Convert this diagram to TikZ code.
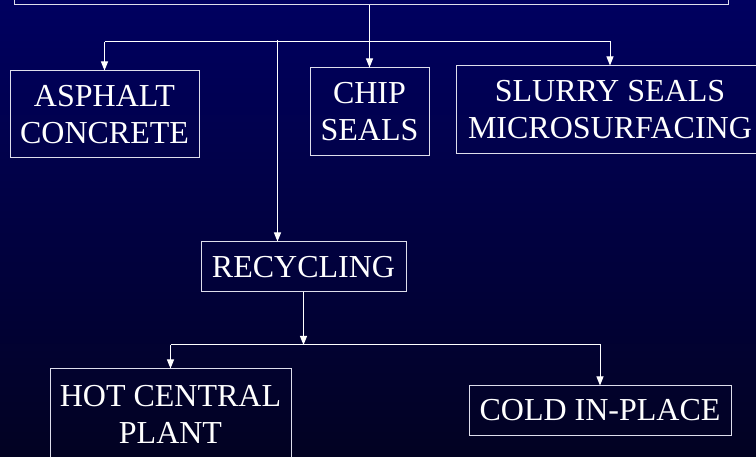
\documentclass[tikz,border=0pt]{standalone}
\usepackage{fontspec}
\setmainfont{Liberation Serif}
\usetikzlibrary{arrows.meta, positioning}
\definecolor{navytop}{RGB}{0,0,96}
\definecolor{navymid}{RGB}{0,0,74}
\definecolor{navybot}{RGB}{2,2,34}
\definecolor{boxline}{RGB}{222,222,236}
\tikzset{
  box/.style={
    draw=boxline,
    rectangle,
    line width=1pt,
    inner sep=0pt,
    align=center,
    text=white,
    font=\fontsize{32}{37}\selectfont,
  },
  arrow/.style={
    -{Triangle[length=9pt,width=7pt]},
    white,
    line width=1pt
  }
}
\begin{document}
\begin{tikzpicture}[x=1pt,y=-1pt]
  \shade[top color=navytop, middle color=navymid, bottom color=navybot]
    (0,0) rectangle (756,457);
  \useasboundingbox (0,0) rectangle (756,457);
  \clip (0,0) rectangle (756,457);

  \node[box, minimum width=714pt, minimum height=90pt] (top) at (371,-40) {};
  \node[box, minimum width=189pt, minimum height=87pt] (asphalt) at (104.5,114.5) {ASPHALT\\CONCRETE};
  \node[box, minimum width=119pt, minimum height=88pt] (chip) at (369.5,112) {CHIP\\SEALS};
  \node[box, minimum width=308pt, minimum height=88pt] (slurry) at (610,110) {SLURRY SEALS\\MICROSURFACING};
  \node[box, minimum width=205pt, minimum height=50pt] (recycling) at (303.5,267) {RECYCLING};
  \node[box, minimum width=241pt, minimum height=91pt] (hot) at (170.5,414.5) {HOT CENTRAL\\PLANT};
  \node[box, minimum width=262pt, minimum height=49pt] (cold) at (600,410.5) {COLD IN-PLACE};

  \coordinate (bar) at (0,42);
  \coordinate (split) at (277.5,40);
  \coordinate (bar2) at (0,345);

  % first level
  \draw[arrow] (chip.north |- top.south) -- (chip.north);
  \draw[arrow] (asphalt.north |- bar) -- (asphalt.north);
  \draw[arrow] (asphalt.north |- bar) -- (slurry.north |- bar) -- (slurry.north);
  \draw[arrow] (split) -- (split |- recycling.north);

  % recycling
  \draw[arrow] (recycling.south) -- (recycling.south |- bar2);
  \draw[arrow] (hot.north |- bar2) -- (hot.north);
  \draw[arrow] (hot.north |- bar2) -- (cold.north |- bar2) -- (cold.north);
\end{tikzpicture}
\end{document}
